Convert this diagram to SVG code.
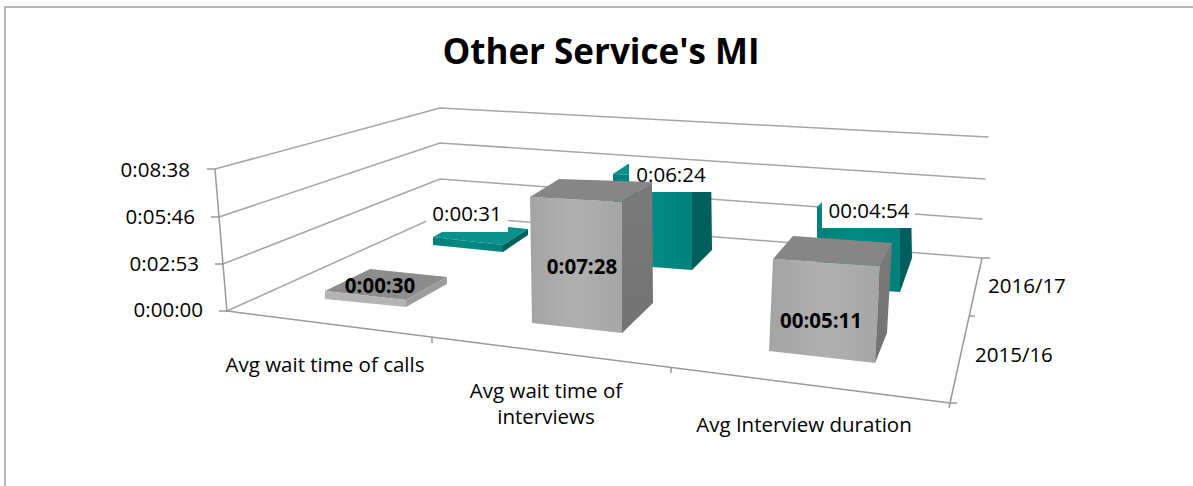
<svg xmlns="http://www.w3.org/2000/svg" width="1193" height="486" viewBox="0 0 1193 486">
<defs>
<style>
text{font-family:"Open Sans","Liberation Sans",sans-serif;fill:#000}
.t{font-size:20.5px}
.b{font-weight:bold}
.grid{stroke:#a6a6a6;stroke-width:1.5;fill:none;stroke-linecap:round}
.axis{stroke:#9a9a9a;stroke-width:1.5;fill:none}
.gtop{fill:#868686}
.gfront{fill:url(#gf)}
.gside{fill:url(#gs)}
.ttop{fill:#0b918b}
.tfront{fill:url(#tf)}
.tside{fill:#005f5c}
.box{fill:#ffffff}
</style>
<linearGradient id="gf" x1="0" y1="0" x2="1" y2="0">
<stop offset="0" stop-color="#a4a4a4"/><stop offset="0.5" stop-color="#b0b0b0"/><stop offset="1" stop-color="#a6a6a6"/>
</linearGradient>
<linearGradient id="gs" x1="0" y1="0" x2="0" y2="1">
<stop offset="0" stop-color="#7a7a7a"/><stop offset="1" stop-color="#727272"/>
</linearGradient>
<linearGradient id="tf" x1="0" y1="0" x2="1" y2="0">
<stop offset="0" stop-color="#00807a"/><stop offset="0.5" stop-color="#028a84"/><stop offset="1" stop-color="#00807a"/>
</linearGradient>
</defs>
<rect x="0" y="0" width="1193" height="486" fill="#ffffff"/>
<rect x="5" y="7" width="1200" height="500" fill="none" stroke="#a0a0a0" stroke-width="1.5"/>
<text x="601" y="64" text-anchor="middle" class="b" style="font-size:35px">Other Service's MI</text>

<g id="walls">
<polyline class="grid" points="215,169 440,108 988,137"/>
<polyline class="grid" points="219,217 440,143 985,179"/>
<polyline class="grid" points="223,264 440,179 982,219"/>
<polyline class="grid" points="227,311 440,215 982,258"/>
</g>

<g id="connectors">
<line class="axis" x1="215" y1="169" x2="227" y2="312"/>
<line class="axis" x1="207" y1="169" x2="215" y2="169"/>
<line class="axis" x1="211" y1="217" x2="219" y2="217"/>
<line class="axis" x1="215" y1="264" x2="223" y2="264"/>
<line class="axis" x1="219" y1="311" x2="227" y2="311"/>
<line class="axis" x1="227" y1="311" x2="950" y2="403"/>
<line class="axis" x1="432" y1="337" x2="432" y2="343"/>
<line class="axis" x1="671" y1="367" x2="671" y2="373"/>
<line class="axis" x1="950" y1="403" x2="949" y2="408"/>
<line class="axis" x1="982" y1="258" x2="950" y2="403"/>
<line class="axis" x1="982" y1="258" x2="990" y2="258"/>
<line class="axis" x1="969" y1="316" x2="975" y2="316"/>
<line class="axis" x1="950" y1="403" x2="957" y2="403"/>
</g>

<g id="bar-calls-1617">
<polygon class="ttop" points="433,237 460,222 528,229 503,245"/>
<polygon class="tfront" points="433,237 503,245 503,252 433,245"/>
<polygon class="tside" points="503,245 528,229 528,235 503,252"/>
<rect class="box" x="426" y="205" width="82" height="27"/>
<text class="t" x="467" y="221" text-anchor="middle">0:00:31</text>
</g>
<g id="bar-interviews-1617">
<polygon class="tfront" points="613,174 692,177 692,270 613,264"/>
<polygon class="ttop" points="613,174 628,164 711,166 692,177"/>
<polygon class="tside" points="692,177 711,166 712,250 692,270"/>
<rect class="box" x="629" y="164" width="84" height="28"/>
<text class="t" x="671" y="182" text-anchor="middle">0:06:24</text>
</g>
<g id="bar-duration-1617">
<polygon class="tfront" points="817,207 900,212 900,292 817,287"/>
<polygon class="ttop" points="817,207 826,198 911,201 900,212"/>
<polygon class="tside" points="900,212 911,201 912,258 900,292"/>
<rect class="box" x="822" y="197" width="93" height="31"/>
<text class="t" x="869" y="218" text-anchor="middle">00:04:54</text>
</g>

<g id="bar-calls-1516">
<polygon fill="#8c8c8c" points="325,291 370,269 447,277 406,300"/>
<polygon fill="#b4b4b4" points="325,291 406,300 406,307 325,299"/>
<polygon fill="#9c9c9c" points="406,300 447,277 447,284 406,307"/>
<text class="t b" x="380" y="293" text-anchor="middle">0:00:30</text>
</g>
<g id="bar-interviews-1516">
<polygon class="gfront" points="530,197 622,202 622,333 532,323"/>
<polygon class="gtop" points="530,197 559,179 652,182 622,202"/>
<polygon class="gside" points="622,202 652,182 653,303 622,333"/>
<text class="t b" x="582" y="274" text-anchor="middle">0:07:28</text>
</g>
<g id="bar-duration-1516">
<polygon class="gfront" points="773,259 880,266 875,363 769,351"/>
<polygon class="gtop" points="773,259 793,236 892,243 880,266"/>
<polygon class="gside" points="880,266 892,243 887,333 875,363"/>
<text class="t b" x="821" y="328" text-anchor="middle">00:05:11</text>
</g>

<g id="axis-labels">
<text class="t" x="190" y="177" text-anchor="end">0:08:38</text>
<text class="t" x="195" y="224" text-anchor="end">0:05:46</text>
<text class="t" x="199" y="271" text-anchor="end">0:02:53</text>
<text class="t" x="203" y="317" text-anchor="end">0:00:00</text>
<text class="t" x="325" y="372" text-anchor="middle">Avg wait time of calls</text>
<text class="t" x="546" y="398" text-anchor="middle">Avg wait time of</text>
<text class="t" x="546" y="424" text-anchor="middle">interviews</text>
<text class="t" x="804" y="432" text-anchor="middle">Avg Interview duration</text>
<text class="t" x="988" y="293">2016/17</text>
<text class="t" x="975" y="362">2015/16</text>
</g>
</svg>
